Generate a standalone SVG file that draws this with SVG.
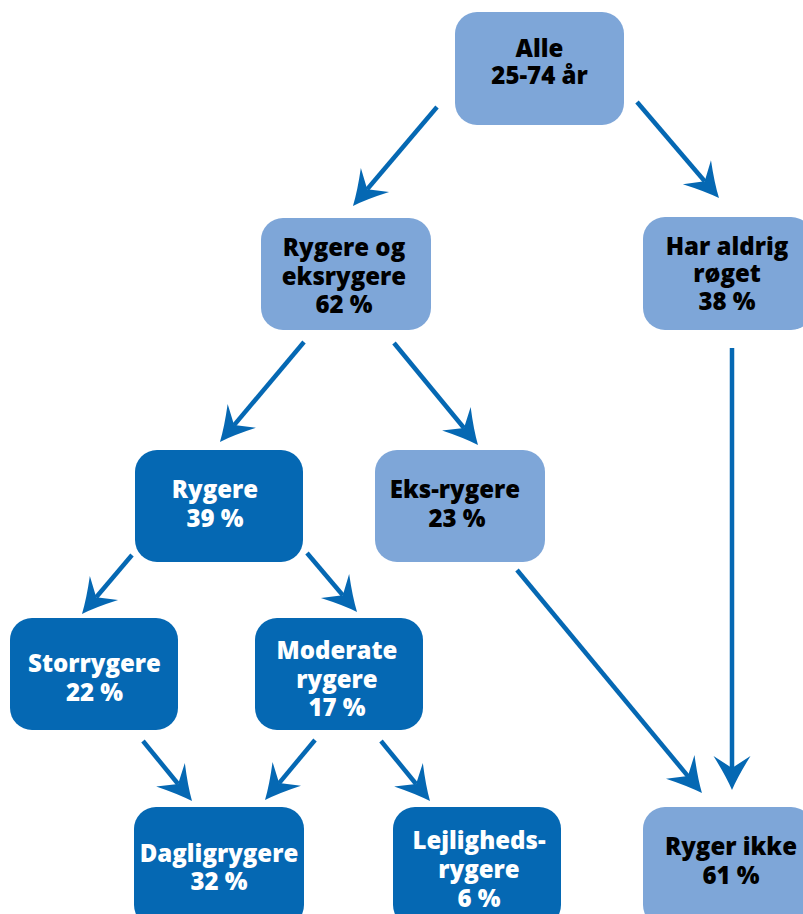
<svg xmlns="http://www.w3.org/2000/svg" width="803" height="914" viewBox="0 0 803 914">
  <style>
    .box { stroke: none; }
    .light { fill: #7ea6d8; }
    .dark { fill: #0568b3; }
    text { font-family: "Open Sans", "Noto Sans", "DejaVu Sans", sans-serif; font-weight: 800; font-size: 24px; text-anchor: middle; }
    .on-light { fill: #000000; }
    .on-dark { fill: #ffffff; }
    .edge { stroke: #0568b3; stroke-width: 4.5; fill: none; marker-end: url(#head); }
  </style>
  <defs>
    <!-- barbed arrowhead; the line ends at the notch, the tip sits 22px further on -->
    <marker id="head" markerUnits="userSpaceOnUse" viewBox="-14 -20 40 40" markerWidth="40" markerHeight="40" refX="0" refY="0" orient="auto">
      <path d="M22,0 Q8,-6 -12,-18.5 L0,0 L-12,18.5 Q8,6 22,0 Z" fill="#0568b3"/>
    </marker>
  </defs>

  <rect width="803" height="914" fill="#ffffff"/>

  <g id="connectors">
    <line class="edge" x1="437" y1="107" x2="367.2" y2="189.2"/>
    <line class="edge" x1="637" y1="102" x2="704.7" y2="181.3"/>
    <line class="edge" x1="304" y1="342" x2="234.1" y2="425.1"/>
    <line class="edge" x1="394" y1="343" x2="464" y2="428"/>
    <line class="edge" x1="732" y1="348" x2="732" y2="768"/>
    <line class="edge" x1="517" y1="570" x2="687.9" y2="776.1"/>
    <line class="edge" x1="132" y1="555" x2="96.2" y2="597.2"/>
    <line class="edge" x1="307" y1="553" x2="342.8" y2="595.2"/>
    <line class="edge" x1="143" y1="741" x2="178.1" y2="784"/>
    <line class="edge" x1="315" y1="740" x2="279.1" y2="783.1"/>
    <line class="edge" x1="381" y1="741" x2="416.1" y2="784"/>
  </g>

  <g id="alle">
    <rect class="box light" x="455" y="12" width="169" height="113" rx="22"/>
    <text class="on-light" x="539.5" y="57">Alle</text>
    <text class="on-light" x="539.5" y="84">25-74 år</text>
  </g>

  <g id="rygere-og-eksrygere">
    <rect class="box light" x="261" y="218" width="170" height="112" rx="22"/>
    <text class="on-light" x="344" y="256">Rygere og</text>
    <text class="on-light" x="344" y="285">eksrygere</text>
    <text class="on-light" x="344" y="313">62 %</text>
  </g>

  <g id="har-aldrig-roget">
    <rect class="box light" x="643" y="217" width="170" height="113" rx="22"/>
    <text class="on-light" x="727" y="255">Har aldrig</text>
    <text class="on-light" x="727" y="282">røget</text>
    <text class="on-light" x="727" y="310">38 %</text>
  </g>

  <g id="rygere">
    <rect class="box dark" x="135" y="450" width="168" height="112" rx="22"/>
    <text class="on-dark" x="215" y="498">Rygere</text>
    <text class="on-dark" x="215" y="527">39 %</text>
  </g>

  <g id="eks-rygere">
    <rect class="box light" x="375" y="450" width="170" height="112" rx="22"/>
    <text class="on-light" x="455" y="498">Eks-rygere</text>
    <text class="on-light" x="457" y="527">23 %</text>
  </g>

  <g id="storrygere">
    <rect class="box dark" x="10" y="618" width="168" height="112" rx="22"/>
    <text class="on-dark" x="94.5" y="672">Storrygere</text>
    <text class="on-dark" x="94.5" y="701">22 %</text>
  </g>

  <g id="moderate-rygere">
    <rect class="box dark" x="255" y="618" width="168" height="112" rx="22"/>
    <text class="on-dark" x="337" y="659">Moderate</text>
    <text class="on-dark" x="337" y="688">rygere</text>
    <text class="on-dark" x="337" y="716">17 %</text>
  </g>

  <g id="dagligrygere">
    <rect class="box dark" x="134" y="807" width="170" height="120" rx="22"/>
    <text class="on-dark" x="219" y="862">Dagligrygere</text>
    <text class="on-dark" x="219" y="890">32 %</text>
  </g>

  <g id="lejligheds-rygere">
    <rect class="box dark" x="393" y="807" width="168" height="120" rx="22"/>
    <text class="on-dark" x="479" y="849">Lejligheds-</text>
    <text class="on-dark" x="479" y="878">rygere</text>
    <text class="on-dark" x="479" y="907">6 %</text>
  </g>

  <g id="ryger-ikke">
    <rect class="box light" x="643" y="807" width="170" height="120" rx="22"/>
    <text class="on-light" x="731" y="855">Ryger ikke</text>
    <text class="on-light" x="731" y="884">61 %</text>
  </g>
</svg>
